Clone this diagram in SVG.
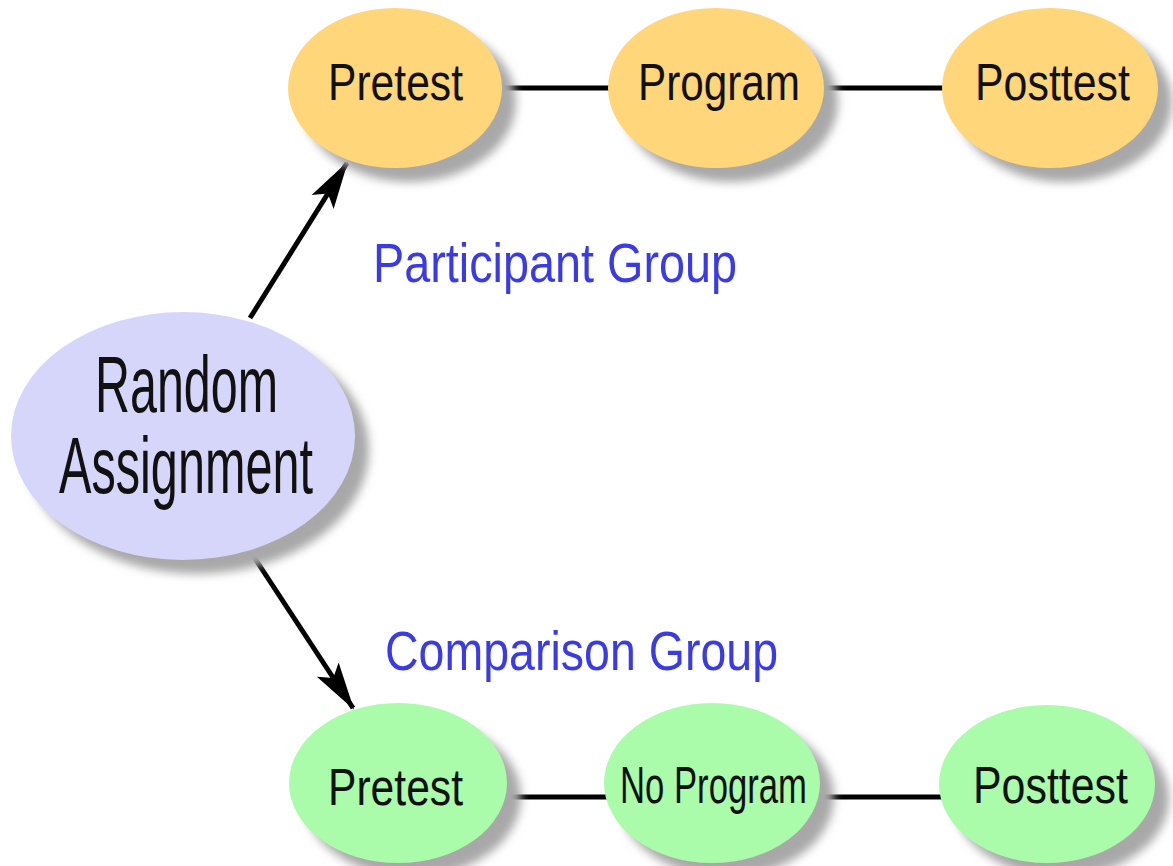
<svg xmlns="http://www.w3.org/2000/svg" width="1173" height="866" viewBox="0 0 1173 866">
  <defs>
    <filter id="soft" x="-20%" y="-20%" width="140%" height="140%">
      <feGaussianBlur stdDeviation="5"/>
    </filter>
    <marker id="head" viewBox="0 0 48 28" refX="46" refY="14" markerWidth="48" markerHeight="28" orient="auto" markerUnits="userSpaceOnUse">
      <path d="M0,1 L48,14 L0,27 L10,14 Z" fill="#000"/>
    </marker>
  </defs>
  <style>
    .shadow { fill: #a8a8a8; filter: url(#soft); }
    .orange { fill: #ffd679; }
    .green { fill: #aafbaa; }
    .lav { fill: #d6d6fb; }
    .lbl { font-family: "Liberation Sans", Arial, sans-serif; fill: #111; }
    .node { font-size: 52px; }
    .big { font-size: 80px; }
    .group { font-family: "Liberation Sans", Arial, sans-serif; font-size: 55px; fill: #3b3be6; }
    .link { stroke: #000; stroke-width: 5; fill: none; }
    .arrow { stroke: #000; stroke-width: 5; fill: none; marker-end: url(#head); }
  </style>
  <rect width="1173" height="866" fill="#fff"/>

  <!-- connectors -->
  <g id="connectors">
    <line class="link" x1="500" y1="88" x2="612" y2="88"/>
    <line class="link" x1="822" y1="88" x2="946" y2="88"/>
    <line class="link" x1="504" y1="797" x2="608" y2="797"/>
    <line class="link" x1="816" y1="797" x2="944" y2="797"/>
    <line class="arrow" x1="250" y1="318" x2="347" y2="163"/>
    <line class="arrow" x1="252" y1="554" x2="353" y2="708"/>
  </g>

  <!-- participant group -->
  <g id="pretest-top">
    <ellipse class="shadow" cx="409" cy="102" rx="107" ry="80"/>
    <ellipse class="orange" cx="395" cy="88" rx="107" ry="80"/>
    <text class="lbl node" x="328" y="100" textLength="135" lengthAdjust="spacingAndGlyphs">Pretest</text>
  </g>
  <g id="program">
    <ellipse class="shadow" cx="730" cy="102" rx="108" ry="80"/>
    <ellipse class="orange" cx="716" cy="88" rx="108" ry="80"/>
    <text class="lbl node" x="638" y="100" textLength="162" lengthAdjust="spacingAndGlyphs">Program</text>
  </g>
  <g id="posttest-top">
    <ellipse class="shadow" cx="1064" cy="102" rx="108" ry="80"/>
    <ellipse class="orange" cx="1050" cy="88" rx="108" ry="80"/>
    <text class="lbl node" x="975" y="100" textLength="155" lengthAdjust="spacingAndGlyphs">Posttest</text>
  </g>

  <!-- random assignment -->
  <g id="random-assignment">
    <ellipse class="shadow" cx="197" cy="450" rx="172" ry="124"/>
    <ellipse class="lav" cx="183" cy="436" rx="172" ry="124"/>
    <text class="lbl big" x="95" y="412" textLength="183" lengthAdjust="spacingAndGlyphs">Random</text>
    <text class="lbl big" x="59" y="493" textLength="254" lengthAdjust="spacingAndGlyphs">Assignment</text>
  </g>

  <!-- comparison group -->
  <g id="pretest-bottom">
    <ellipse class="shadow" cx="412" cy="797" rx="109" ry="80"/>
    <ellipse class="green" cx="398" cy="783" rx="109" ry="80"/>
    <text class="lbl node" x="328" y="805" textLength="135" lengthAdjust="spacingAndGlyphs">Pretest</text>
  </g>
  <g id="no-program">
    <ellipse class="shadow" cx="726" cy="797" rx="108" ry="80"/>
    <ellipse class="green" cx="712" cy="783" rx="108" ry="80"/>
    <text class="lbl node" x="620" y="803" textLength="187" lengthAdjust="spacingAndGlyphs">No Program</text>
  </g>
  <g id="posttest-bottom">
    <ellipse class="shadow" cx="1061" cy="798" rx="108" ry="79"/>
    <ellipse class="green" cx="1047" cy="784" rx="108" ry="79"/>
    <text class="lbl node" x="973" y="803" textLength="155" lengthAdjust="spacingAndGlyphs">Posttest</text>
  </g>

  <!-- group labels -->
  <text class="group" x="373" y="282" textLength="364" lengthAdjust="spacingAndGlyphs">Participant Group</text>
  <text class="group" x="385" y="670" textLength="393" lengthAdjust="spacingAndGlyphs">Comparison Group</text>
</svg>
